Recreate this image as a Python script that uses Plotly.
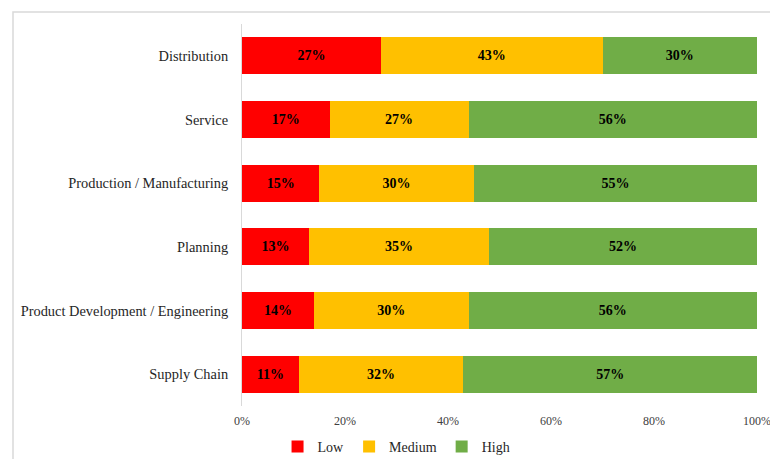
import plotly.graph_objects as go

categories = ["Distribution", "Service", "Production / Manufacturing", "Planning",
              "Product Development / Engineering", "Supply Chain"]
low = [27, 17, 15, 13, 14, 11]
medium = [43, 27, 30, 35, 30, 32]
high = [30, 56, 55, 52, 56, 57]
series = [("Low", low, "#FF0000"), ("Medium", medium, "#FFC000"), ("High", high, "#70AD47")]
tick_vals = [0, 20, 40, 60, 80, 100]
tick_text = ["0%", "20%", "40%", "60%", "80%", "100%"]

FONT = "Liberation Serif, DejaVu Serif, serif"

fig = go.Figure()
for name, vals, color in series:
    fig.add_trace(go.Bar(
        y=categories, x=vals, name=name, orientation="h",
        marker=dict(color=color, line=dict(width=0)),
        text=[f"<b>{v}%</b>" for v in vals],
        textposition="inside", insidetextanchor="middle",
        textfont=dict(family=FONT, size=14, color="#000000"),
        hoverinfo="skip",
    ))

fig.update_layout(
    barmode="stack", bargap=0.42,
    width=770, height=459,
    margin=dict(l=242, r=13, t=24, b=53, autoexpand=False),
    paper_bgcolor="white", plot_bgcolor="white",
    font=dict(family=FONT, color="#404040"),
    showlegend=True,
    legend=dict(orientation="h", xref="container", x=0.515, xanchor="center",
                yref="container", y=1 - 447 / 459, yanchor="middle",
                font=dict(family=FONT, size=14, color="#262626"),
                traceorder="normal", itemwidth=30, tracegroupgap=0),
    uniformtext=dict(mode="show", minsize=8),
)
fig.update_xaxes(range=[0, 100], tickvals=tick_vals, ticktext=tick_text,
                 showgrid=False, zeroline=False, showline=False, automargin=False,
                 ticklabeloverflow="allow",
                 tickfont=dict(family=FONT, size=12, color="#404040"),
                 ticks="outside", ticklen=4, tickcolor="rgba(0,0,0,0)")
fig.update_yaxes(autorange="reversed", showgrid=False, showline=True, automargin=False,
                 linecolor="#d9d9d9", linewidth=1, ticks="", ticklabelstandoff=10,
                 tickfont=dict(family=FONT, size=14.4, color="#262626"))
fig.add_shape(type="rect", xref="paper", yref="paper",
              x0=(13 - 242) / 515, x1=1.1, y0=-0.3, y1=(406 - 12) / 382,
              line=dict(color="#d9d9d9", width=1.5), fillcolor="rgba(0,0,0,0)", layer="below")
fig.write_html("out.html")
